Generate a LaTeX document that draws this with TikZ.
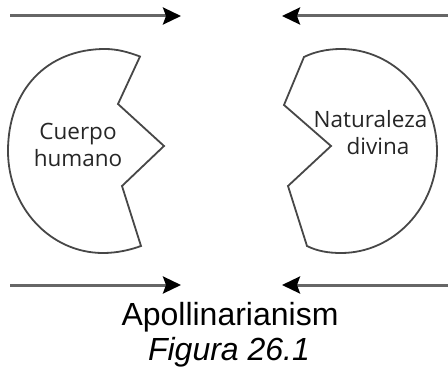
\documentclass[tikz,border=0pt]{standalone}
\usepackage{fontspec}
\setmainfont{Liberation Sans}
\newfontfamily\labelfont{Open Sans}
\usetikzlibrary{arrows.meta}
\tikzset{
  x=1pt,y=-1pt,
  shapeline/.style={draw=black!72,line width=1.8pt,line join=miter},
  flow/.style={draw=black!60,line width=3pt,-{Stealth[length=18pt,width=17pt,inset=3pt,black]}},
  lbl/.style={font=\labelfont\fontsize{22.5}{27}\selectfont,text=black!85,inner sep=0pt},
  captext/.style={font=\fontsize{32}{34}\selectfont,text=black,inner sep=0pt,anchor=base}
}
\begin{document}
\begin{tikzpicture}
\useasboundingbox (0,0) rectangle (448,369);
\draw[shapeline] (140,56.5) .. controls (128,52) and (117,49) .. (105,49)
  .. controls (47,49) and (8,90) .. (8,151)
  .. controls (8,207) and (50,253) .. (103,253)
  .. controls (117,253) and (130,250) .. (141,246)
  -- (122,186) -- (164,146) -- (118,104) -- cycle;
\draw[shapeline] (304,57) .. controls (314,52) and (327,49) .. (341,49)
  .. controls (394,49) and (437,95) .. (437,151)
  .. controls (437,207) and (394,253) .. (341,253)
  .. controls (328,253) and (317,251) .. (307,246)
  -- (288,186) -- (331,146) -- (284,105) -- cycle;
\coordinate (a1s) at (10,16); \coordinate (a1e) at (181,16);
\coordinate (a2s) at (448,16); \coordinate (a2e) at (282,16);
\coordinate (a3s) at (10,285); \coordinate (a3e) at (181,285);
\coordinate (a4s) at (448,285); \coordinate (a4e) at (282,285);
\draw[flow] (a1s) -- (a1e);
\draw[flow] (a2s) -- (a2e);
\draw[flow] (a3s) -- (a3e);
\draw[flow] (a4s) -- (a4e);
\node[lbl,align=center] (body) at (78,145) {Cuerpo\\humano};
\node[lbl,align=left] (nature) at (370.5,133) {Naturaleza\\\hspace*{33pt}divina};
\node[captext] (title) at (230,325) {Apollinarianism};
\node[captext] (fig) at (229,360) {\itshape Figura 26.1};
\end{tikzpicture}
\end{document}
